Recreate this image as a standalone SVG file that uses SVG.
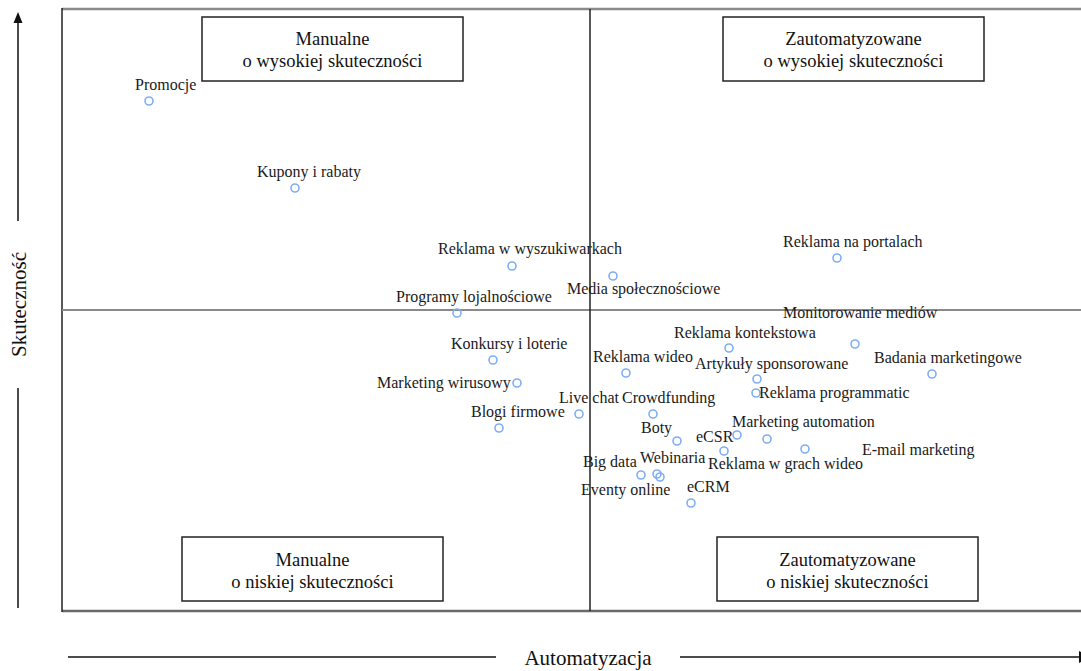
<svg xmlns="http://www.w3.org/2000/svg" width="1081" height="671" viewBox="0 0 1081 671">
<style>
.lbl{font-family:"Liberation Serif","Times New Roman",serif;font-size:16px;fill:#1a1a1a}
.box{fill:#fff;stroke:#222;stroke-width:1.5}
.bt{font-family:"Liberation Serif","Times New Roman",serif;font-size:18.5px;fill:#111;text-anchor:middle}
.ax{font-family:"Liberation Serif","Times New Roman",serif;font-size:21px;fill:#111;text-anchor:middle}
.pt{fill:none;stroke:#7eaef5;stroke-width:1.6}
.axl{stroke:#111;stroke-width:1.5;fill:none}
</style>
<rect width="1081" height="671" fill="#fff"/>
<g id="frame">
<line x1="62" y1="9" x2="1081" y2="9" stroke="#8a8a8a" stroke-width="2.5"/>
<line x1="62" y1="611" x2="1081" y2="611" stroke="#6a6a6a" stroke-width="2.5"/>
<line x1="62" y1="8" x2="62" y2="612" stroke="#222" stroke-width="1.5"/>
<line x1="62" y1="310" x2="1081" y2="310" stroke="#8a8a8a" stroke-width="2"/>
<line x1="590" y1="9" x2="590" y2="611" stroke="#222" stroke-width="1.5"/>
</g>
<g id="connectors">
<line class="axl" x1="18" y1="22" x2="18" y2="221"/>
<polygon points="18,12 13.5,23 22.5,23" fill="#111"/>
<line class="axl" x1="18" y1="388" x2="18" y2="608"/>
<line class="axl" x1="68" y1="657" x2="496" y2="657"/>
<line class="axl" x1="680" y1="657" x2="1081" y2="657"/>
<polygon points="1079,651 1091,657 1079,663" fill="#111"/>
</g>
<g id="axis-y"><text class="ax" transform="translate(26,304.5) rotate(-90)">Skuteczność</text></g>
<g id="axis-x"><text class="ax" x="588" y="665">Automatyzacja</text></g>
<g id="q-manual-high"><rect class="box" x="202" y="17" width="261" height="64"/><text class="bt" x="332.5" y="45">Manualne</text><text class="bt" x="332.5" y="67">o wysokiej skuteczności</text></g>
<g id="q-auto-high"><rect class="box" x="723" y="17" width="261" height="64"/><text class="bt" x="853.5" y="45">Zautomatyzowane</text><text class="bt" x="853.5" y="67">o wysokiej skuteczności</text></g>
<g id="q-manual-low"><rect class="box" x="182" y="537" width="261" height="64"/><text class="bt" x="312.5" y="566">Manualne</text><text class="bt" x="312.5" y="588">o niskiej skuteczności</text></g>
<g id="q-auto-low"><rect class="box" x="717" y="537" width="261" height="64"/><text class="bt" x="847.5" y="566">Zautomatyzowane</text><text class="bt" x="847.5" y="588">o niskiej skuteczności</text></g>
<g id="p-promocje"><circle class="pt" cx="149" cy="101" r="4"/><text class="lbl" x="135" y="90">Promocje</text></g>
<g id="p-kupony"><circle class="pt" cx="295" cy="188" r="4"/><text class="lbl" x="257" y="177">Kupony i rabaty</text></g>
<g id="p-wyszukiwarki"><circle class="pt" cx="512" cy="266" r="4"/><text class="lbl" x="438" y="254">Reklama w wyszukiwarkach</text></g>
<g id="p-media"><circle class="pt" cx="613" cy="276" r="4"/><text class="lbl" x="567" y="294">Media społecznościowe</text></g>
<g id="p-programy"><circle class="pt" cx="457" cy="313" r="4"/><text class="lbl" x="396" y="302">Programy lojalnościowe</text></g>
<g id="p-konkursy"><circle class="pt" cx="493" cy="360" r="4"/><text class="lbl" x="451" y="349">Konkursy i loterie</text></g>
<g id="p-wideo"><circle class="pt" cx="626" cy="373" r="4"/><text class="lbl" x="593" y="362">Reklama wideo</text></g>
<g id="p-wirusowy"><circle class="pt" cx="517" cy="383" r="4"/><text class="lbl" x="377" y="388">Marketing wirusowy</text></g>
<g id="p-livechat"><circle class="pt" cx="579" cy="414" r="4"/><text class="lbl" x="559" y="403">Live chat</text></g>
<g id="p-crowdfunding"><circle class="pt" cx="653" cy="414" r="4"/><text class="lbl" x="622" y="403">Crowdfunding</text></g>
<g id="p-blogi"><circle class="pt" cx="499" cy="428" r="4"/><text class="lbl" x="471" y="417">Blogi firmowe</text></g>
<g id="p-boty"><circle class="pt" cx="677" cy="441" r="4"/><text class="lbl" x="641" y="433">Boty</text></g>
<g id="p-ecsr"><circle class="pt" cx="737" cy="435" r="4"/><text class="lbl" x="696" y="442">eCSR</text></g>
<g id="p-automation"><circle class="pt" cx="767" cy="439" r="4"/><text class="lbl" x="732" y="427">Marketing automation</text></g>
<g id="p-gry"><circle class="pt" cx="724" cy="451" r="4"/><text class="lbl" x="708" y="469">Reklama w grach wideo</text></g>
<g id="p-email"><circle class="pt" cx="805" cy="449" r="4"/><text class="lbl" x="862" y="455">E-mail marketing</text></g>
<g id="p-bigdata"><circle class="pt" cx="641" cy="475" r="4"/><text class="lbl" x="583" y="467">Big data</text></g>
<g id="p-webinaria"><circle class="pt" cx="657" cy="474" r="4"/><text class="lbl" x="640" y="463">Webinaria</text></g>
<g id="p-eventy"><circle class="pt" cx="660" cy="477" r="4"/><text class="lbl" x="581" y="495">Eventy online</text></g>
<g id="p-ecrm"><circle class="pt" cx="691" cy="503" r="4"/><text class="lbl" x="687" y="492">eCRM</text></g>
<g id="p-portale"><circle class="pt" cx="837" cy="258" r="4"/><text class="lbl" x="783" y="247">Reklama na portalach</text></g>
<g id="p-monitorowanie"><circle class="pt" cx="855" cy="344" r="4"/><text class="lbl" x="783" y="318">Monitorowanie mediów</text></g>
<g id="p-kontekstowa"><circle class="pt" cx="729" cy="348" r="4"/><text class="lbl" x="674" y="338">Reklama kontekstowa</text></g>
<g id="p-artykuly"><circle class="pt" cx="757" cy="379" r="4"/><text class="lbl" x="695" y="369">Artykuły sponsorowane</text></g>
<g id="p-programmatic"><circle class="pt" cx="756" cy="393" r="4"/><text class="lbl" x="759" y="398">Reklama programmatic</text></g>
<g id="p-badania"><circle class="pt" cx="932" cy="374" r="4"/><text class="lbl" x="874" y="363">Badania marketingowe</text></g>
</svg>
